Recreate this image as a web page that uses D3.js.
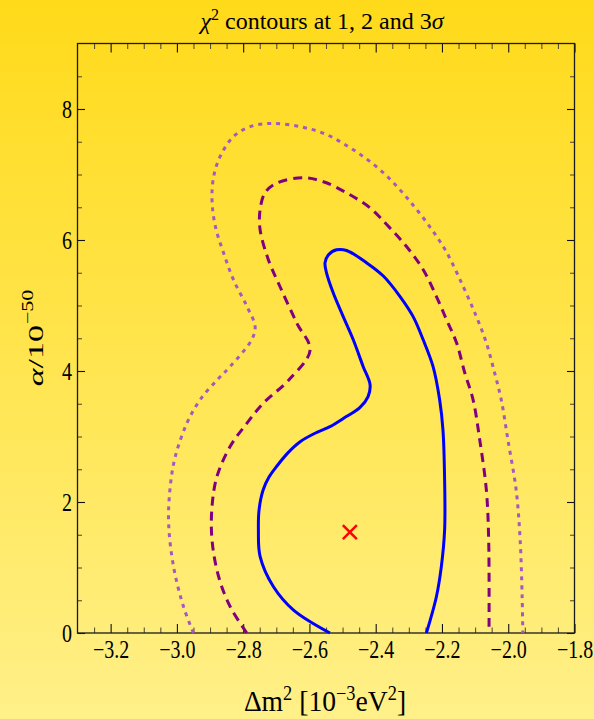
<!DOCTYPE html>
<html>
<head>
<meta charset="utf-8">
<script src="https://d3js.org/d3.v7.min.js"></script>
<style>
  body { margin: 0; }
</style>
</head>
<body>
<div id="chart"></div>
<script>
var xTicks = [-3.2, -3.0, -2.8, -2.6, -2.4, -2.2, -2.0, -1.8];
var yTicks = [0, 2, 4, 6, 8];

// contours: [delta m^2, alpha]
var sigma1 = [[-2.538, 0], [-2.648, 0.35], [-2.709, 0.71], [-2.749, 1.17], [-2.754, 1.57],
  [-2.752, 1.88], [-2.740, 2.18], [-2.722, 2.38], [-2.698, 2.55], [-2.665, 2.75], [-2.628, 2.92],
  [-2.583, 3.05], [-2.538, 3.15], [-2.49, 3.30],
  [-2.448, 3.44], [-2.423, 3.61], [-2.417, 3.79], [-2.438, 4.07], [-2.468, 4.48], [-2.498, 4.83],
  [-2.528, 5.19], [-2.548, 5.49], [-2.553, 5.65], [-2.543, 5.77], [-2.518, 5.85], [-2.488, 5.84],
  [-2.427, 5.65], [-2.377, 5.45], [-2.327, 5.14], [-2.287, 4.83], [-2.257, 4.48], [-2.227, 4.07],
  [-2.207, 3.56], [-2.197, 3.10], [-2.192, 2.34], [-2.192, 1.57], [-2.202, 1.01], [-2.217, 0.55],
  [-2.247, 0]];

var sigma2 = [[-2.789, 0], [-2.839, 0.40], [-2.874, 0.86], [-2.894, 1.42], [-2.894, 1.93],
  [-2.879, 2.39], [-2.839, 2.85], [-2.789, 3.20], [-2.739, 3.51], [-2.663, 3.86], [-2.598, 4.32],
  [-2.638, 4.73], [-2.689, 5.29], [-2.724, 5.70], [-2.749, 6.16], [-2.749, 6.46], [-2.734, 6.72],
  [-2.698, 6.87], [-2.618, 6.95], [-2.558, 6.89], [-2.488, 6.72], [-2.417, 6.49], [-2.36, 6.20],
  [-2.307, 5.90], [-2.257, 5.55], [-2.217, 5.14], [-2.186, 4.78], [-2.156, 4.43], [-2.131, 3.97],
  [-2.106, 3.56], [-2.086, 2.95], [-2.066, 2.18], [-2.059, 1.42], [-2.058, 0]];

var sigma3 = [[-2.950, 0], [-2.980, 0.40], [-3.010, 1.01], [-3.025, 1.68], [-3.020, 2.24],
  [-3.005, 2.69], [-2.970, 3.20], [-2.930, 3.56], [-2.879, 3.86], [-2.839, 4.07], [-2.774, 4.48],
  [-2.764, 4.68], [-2.789, 4.99], [-2.829, 5.39], [-2.859, 5.80], [-2.884, 6.21], [-2.894, 6.61],
  [-2.889, 6.97], [-2.869, 7.28], [-2.829, 7.58], [-2.779, 7.73], [-2.714, 7.78], [-2.628, 7.73],
  [-2.553, 7.62], [-2.487, 7.44], [-2.423, 7.22], [-2.363, 6.96], [-2.305, 6.64],
  [-2.245, 6.26], [-2.188, 5.83], [-2.136, 5.29], [-2.096, 4.83], [-2.066, 4.43], [-2.041, 3.97],
  [-2.021, 3.56], [-2.001, 2.95], [-1.976, 2.18], [-1.964, 1.42], [-1.958, 0.55], [-1.956, 0]];

var bestFit = [-2.478, 1.54];

var FONT = "'Liberation Serif', 'Times New Roman', Times, 'DejaVu Serif', serif";

var W = 594, H = 719;
var margin = { top: 43.5, right: 19.5, bottom: 86, left: 77.5 },
    width = W - margin.left - margin.right,
    height = H - margin.top - margin.bottom;

var root = d3.select("#chart").append("svg")
    .attr("width", W)
    .attr("height", H);

var grad = root.append("defs").append("linearGradient")
    .attr("id", "bg").attr("x1", 0).attr("y1", 0).attr("x2", 0).attr("y2", 1);
grad.append("stop").attr("offset", "0%").attr("stop-color", "#ffda1a");
grad.append("stop").attr("offset", "55%").attr("stop-color", "#ffe654");
grad.append("stop").attr("offset", "100%").attr("stop-color", "#fff089");

root.append("rect").attr("width", W).attr("height", H).attr("fill", "url(#bg)");

var svg = root.append("g")
    .attr("transform", "translate(" + margin.left + "," + margin.top + ")");

var x = d3.scaleLinear().domain([-3.3, -1.8]).range([0, width]);
var y = d3.scaleLinear().domain([0, 9]).range([height, 0]);

var minorX = d3.range(-65, -36).filter(function (i) { return i % 4 !== 0; })
    .map(function (i) { return i * 0.05; });
var minorY = d3.range(1, 18).filter(function (i) { return i % 4 !== 0; })
    .map(function (i) { return i * 0.5; });

function styleAxis(g, color) {
  g.select(".domain").remove();
  g.selectAll("line").attr("stroke", color).attr("stroke-width", 1.1);
}

// minor ticks on all four sides
svg.append("g").attr("transform", "translate(0," + height + ")")
    .call(d3.axisBottom(x).tickValues(minorX).tickSize(-5.5).tickFormat(""))
    .call(styleAxis, "#5a5230");
svg.append("g")
    .call(d3.axisTop(x).tickValues(minorX).tickSize(-5.5).tickFormat(""))
    .call(styleAxis, "#5a5230");
svg.append("g")
    .call(d3.axisLeft(y).tickValues(minorY).tickSize(-4.5).tickFormat(""))
    .call(styleAxis, "#5a5230");
svg.append("g").attr("transform", "translate(" + width + ",0)")
    .call(d3.axisRight(y).tickValues(minorY).tickSize(-4.5).tickFormat(""))
    .call(styleAxis, "#5a5230");

// major ticks
var xAxis = svg.append("g").attr("transform", "translate(0," + height + ")")
    .call(d3.axisBottom(x).tickValues(xTicks).tickSize(-9).tickPadding(7).tickFormat(d3.format(".1f")))
    .call(styleAxis, "#111");
svg.append("g")
    .call(d3.axisTop(x).tickValues(xTicks).tickSize(-9).tickFormat(""))
    .call(styleAxis, "#111");
var yAxis = svg.append("g")
    .call(d3.axisLeft(y).tickValues(yTicks).tickSize(-7.5).tickPadding(7).tickFormat(d3.format("d")))
    .call(styleAxis, "#111");
svg.append("g").attr("transform", "translate(" + width + ",0)")
    .call(d3.axisRight(y).tickValues(yTicks).tickSize(-7.5).tickFormat(""))
    .call(styleAxis, "#111");

[xAxis, yAxis].forEach(function (a) {
  a.attr("font-family", FONT).attr("font-size", 25);
  a.selectAll("text")
      .attr("font-family", FONT)
      .attr("fill", "#000")
      .attr("transform", "scale(0.8,1)");
});

svg.append("rect")
    .attr("width", width).attr("height", height)
    .attr("fill", "none").attr("stroke", "#1a1a1a").attr("stroke-width", 1.3);

// contours
var line = d3.line()
    .x(function (d) { return x(d[0]); })
    .y(function (d) { return y(d[1]); })
    .curve(d3.curveCatmullRom.alpha(0.5));

svg.append("path").attr("d", line(sigma3))
    .attr("fill", "none").attr("stroke", "#a557c2").attr("stroke-width", 3)
    .attr("stroke-dasharray", "4,5");
svg.append("path").attr("d", line(sigma2))
    .attr("fill", "none").attr("stroke", "#800080").attr("stroke-width", 3)
    .attr("stroke-dasharray", "9,6");
svg.append("path").attr("d", line(sigma1))
    .attr("fill", "none").attr("stroke", "#0000ff").attr("stroke-width", 3);

// best fit cross
var cx = x(bestFit[0]), cy = y(bestFit[1]), s = 7;
svg.append("path")
    .attr("d", "M" + (cx - s) + "," + (cy - s) + "L" + (cx + s) + "," + (cy + s) +
               "M" + (cx - s) + "," + (cy + s) + "L" + (cx + s) + "," + (cy - s))
    .attr("stroke", "#ff0000").attr("stroke-width", 2.5);

// title
var title = root.append("text")
    .attr("transform", "translate(322,29)")
    .attr("text-anchor", "middle")
    .attr("font-family", FONT)
    .attr("font-size", 24);
title.append("tspan").attr("font-style", "italic").text("χ");
title.append("tspan").attr("dy", -9).attr("font-size", 16).text("2");
title.append("tspan").attr("dy", 9).text(" contours at 1, 2 and 3");
title.append("tspan").attr("font-style", "italic").text("σ");

// x label
var xl = root.append("text")
    .attr("transform", "translate(325,711) scale(0.92,1)")
    .attr("text-anchor", "middle")
    .attr("font-family", FONT)
    .attr("font-size", 30);
xl.append("tspan").text("Δm");
xl.append("tspan").attr("dy", -11).attr("font-size", 20).text("2");
xl.append("tspan").attr("dy", 11).text(" [10");
xl.append("tspan").attr("dy", -11).attr("font-size", 20).text("−3");
xl.append("tspan").attr("dy", 11).text("eV");
xl.append("tspan").attr("dy", -11).attr("font-size", 20).text("2");
xl.append("tspan").attr("dy", 11).text("]");

// y label: base and exponent drawn separately so each gets its own squeeze
var yl = root.append("g").attr("transform", "translate(43,338) rotate(-90)");
var ylBase = yl.append("text")
    .attr("font-family", FONT)
    .attr("font-size", 34);
ylBase.append("tspan").attr("font-style", "italic").text("α");
ylBase.append("tspan").text("/10");
var ylExp = yl.append("text")
    .attr("font-family", FONT)
    .attr("font-size", 22)
    .text("−50");
var baseLen = ylBase.node().getComputedTextLength(),
    expLen = ylExp.node().getComputedTextLength(),
    start = -(baseLen + expLen + 1) / 2;
ylBase.attr("transform", "translate(" + start + ",0) scale(1,0.59)");
ylExp.attr("transform", "translate(" + (start + baseLen + 1) + ",-10) scale(1,0.72)");
</script>
</body>
</html>
